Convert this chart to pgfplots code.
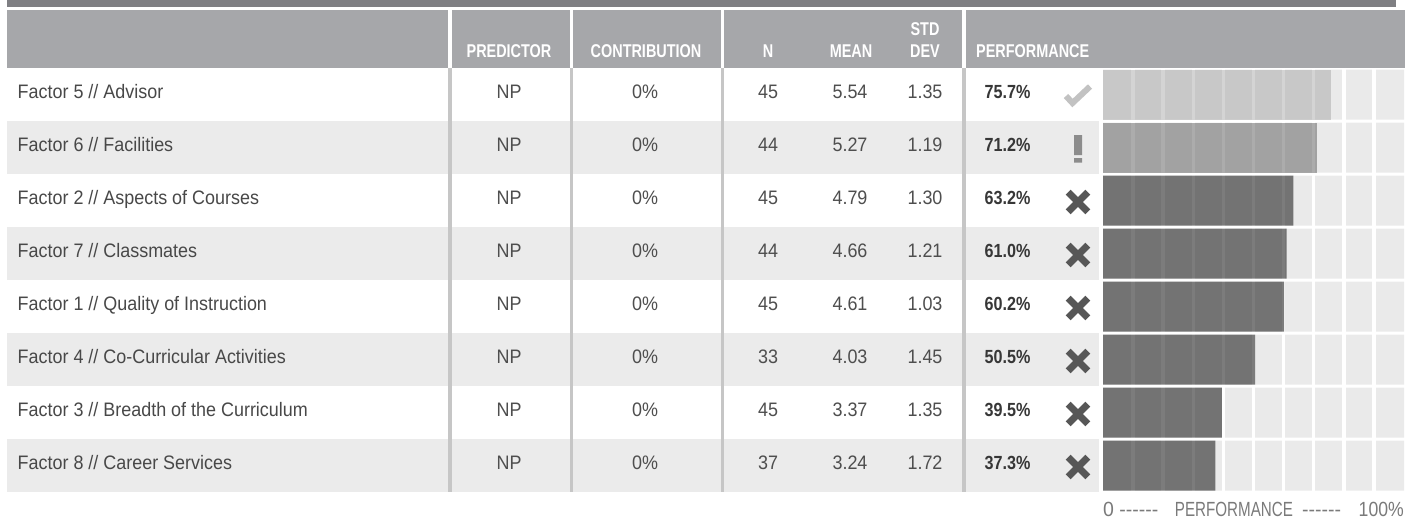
\documentclass[border=0pt]{standalone}
\usepackage{pgfplots}
\pgfplotsset{compat=1.18}
\usepackage{pgfplotstable}
\usepackage{fontspec}
\setmainfont{Liberation Sans}[FakeStretch=0.92]
\newfontfamily\hdrfont{Liberation Sans}[FakeStretch=0.78]
\newfontfamily\perffont{Liberation Sans}[FakeStretch=0.85]
\newfontfamily\btmfont{Liberation Sans}[FakeStretch=0.95]
\newfontfamily\btmnarrow{Liberation Sans}[FakeStretch=0.74]
\newfontfamily\btmnum{Liberation Sans}[FakeStretch=0.86]

\definecolor{topbar}{RGB}{127,127,131}
\definecolor{hdrgray}{RGB}{166,167,170}
\definecolor{stripe}{RGB}{235,235,235}
\definecolor{sepgray}{RGB}{198,198,198}
\definecolor{labeltxt}{RGB}{72,72,72}
\definecolor{valtxt}{RGB}{78,78,78}
\definecolor{perftxt}{RGB}{55,55,55}
\definecolor{chkcol}{RGB}{194,194,194}
\definecolor{exclcol}{RGB}{140,140,140}
\definecolor{xcol}{RGB}{87,87,87}
\definecolor{btmtxt}{RGB}{122,122,122}
\definecolor{bgcell}{RGB}{234,234,234}
\definecolor{barlight}{RGB}{160,160,160}
\definecolor{barmid}{RGB}{104,104,104}
\definecolor{bardark}{RGB}{18,18,18}

\pgfdeclareplotmark{chk}{%
  \pgfsetlinewidth{6pt}\pgfsetbuttcap\pgfsetmiterjoin
  \pgfpathmoveto{\pgfqpoint{-12pt}{0.5pt}}%
  \pgfpathlineto{\pgfqpoint{-5.5pt}{-6.5pt}}%
  \pgfpathlineto{\pgfqpoint{12pt}{10pt}}%
  \pgfusepathqstroke}
\pgfdeclareplotmark{bigx}{%
  \pgfsetlinewidth{7pt}\pgfsetbuttcap
  \pgfpathmoveto{\pgfqpoint{-9.8pt}{-9.8pt}}\pgfpathlineto{\pgfqpoint{9.8pt}{9.8pt}}%
  \pgfpathmoveto{\pgfqpoint{-9.8pt}{9.8pt}}\pgfpathlineto{\pgfqpoint{9.8pt}{-9.8pt}}%
  \pgfusepathqstroke}
\pgfdeclareplotmark{excl}{%
  \pgfpathrectangle{\pgfqpoint{-4pt}{-7pt}}{\pgfqpoint{8pt}{20pt}}%
  \pgfpathrectangle{\pgfqpoint{-4pt}{-14.5pt}}{\pgfqpoint{8pt}{4.5pt}}%
  \pgfusepathqfill}

\pgfplotstableread[col sep=comma]{
row,label,pred,contrib,n,mean,sd,perf
1,Factor 5 // Advisor,NP,0,45,5.54,1.35,75.7
2,Factor 6 // Facilities,NP,0,44,5.27,1.19,71.2
3,Factor 2 // Aspects of Courses,NP,0,45,4.79,1.30,63.2
4,Factor 7 // Classmates,NP,0,44,4.66,1.21,61.0
5,Factor 1 // Quality of Instruction,NP,0,45,4.61,1.03,60.2
6,Factor 4 // Co-Curricular Activities,NP,0,33,4.03,1.45,50.5
7,Factor 3 // Breadth of the Curriculum,NP,0,45,3.37,1.35,39.5
8,Factor 8 // Career Services,NP,0,37,3.24,1.72,37.3
}\factors

\newcommand{\textcol}[5]{%
  \addplot[draw=none, mark=none, nodes near coords={#5}, point meta=explicit symbolic,
    nodes near coords style={anchor=#3, inner sep=0pt, #4}]
    table[x expr=#1, y expr=\thisrow{row}+0.07, meta=#2] {\factors};}
\def\dashes{-{}-{}-{}-{}-{}-}

\begin{document}
\begin{tikzpicture}[x=1pt,y=1pt]
\useasboundingbox (0,0) rectangle (1420,519);
% ---------------- table axis (x in px, y in rows) ----------------
\begin{axis}[at={(0pt,0pt)}, anchor=south west, scale only axis,
  width=1420pt, height=519pt, xmin=0, xmax=1420,
  ymin=-0.783, ymax=9.009, y dir=reverse, hide axis, clip=false]
  \fill[topbar] (axis cs:7,-0.783) rectangle (axis cs:1396,-0.657);
  \fill[hdrgray] (axis cs:7,-0.594) rectangle (axis cs:1405,0.5);
  \pgfplotsinvokeforeach{2,4,6,8}{
    \fill[stripe] (axis cs:7,#1-0.5) rectangle (axis cs:1099,#1+0.5);}
  \pgfplotsinvokeforeach{450,571.5,722.5,964}{
    \draw[white, line width=3.3pt] (axis cs:#1,-0.594) -- (axis cs:#1,0.5);
    \draw[sepgray, line width=3.3pt] (axis cs:#1,0.5) -- (axis cs:#1,8.5);}
  % header texts
  \begin{scope}[every node/.style={inner sep=0pt, text=white,
      font=\hdrfont\bfseries\fontsize{18.5}{21}\selectfont}]
    \node[anchor=base] at (axis cs:509,0.311) {PREDICTOR};
    \node[anchor=base] at (axis cs:646,0.311) {CONTRIBUTION};
    \node[anchor=base] at (axis cs:768,0.311) {N};
    \node[anchor=base] at (axis cs:851,0.311) {MEAN};
    \node[anchor=base] at (axis cs:925,-0.104) {STD};
    \node[anchor=base] at (axis cs:925,0.311) {DEV};
    \node[anchor=base west] at (axis cs:976,0.311) {PERFORMANCE};
  \end{scope}
  % table columns
  \textcol{17.5}{label}{base west}{text=labeltxt, font=\fontsize{19.5}{22}\selectfont}{\pgfplotspointmeta}
  \textcol{509}{pred}{base}{text=valtxt, font=\fontsize{19.5}{22}\selectfont}{\pgfplotspointmeta}
  \textcol{645}{contrib}{base}{text=valtxt, font=\fontsize{19.5}{22}\selectfont}{\pgfplotspointmeta\%}
  \textcol{768}{n}{base}{text=valtxt, font=\fontsize{19.5}{22}\selectfont}{\pgfplotspointmeta}
  \textcol{850}{mean}{base}{text=valtxt, font=\fontsize{19.5}{22}\selectfont}{\pgfplotspointmeta}
  \textcol{925}{sd}{base}{text=valtxt, font=\fontsize{19.5}{22}\selectfont}{\pgfplotspointmeta}
  \textcol{984.5}{perf}{base west}{text=perftxt, font=\perffont\bfseries\fontsize{19}{22}\selectfont}{\pgfplotspointmeta\%}
  % status icons
  \addplot[only marks, mark=chk, color=chkcol, restrict y to domain=0:1.5]
    table[x expr=1078, y expr=\thisrow{row}+0.038] {\factors};
  \addplot[only marks, mark=excl, color=exclcol, mark options={fill=exclcol}, restrict y to domain=1.5:2.5]
    table[x expr=1078, y expr=\thisrow{row}+0.01] {\factors};
  \addplot[only marks, mark=bigx, color=xcol, restrict y to domain=2.5:9]
    table[x expr=1078, y expr=\thisrow{row}+0.028] {\factors};
\end{axis}
% ---------------- performance bars axis ----------------
\begin{axis}[at={(1103pt,0pt)}, anchor=south west, scale only axis,
  width=301pt, height=519pt, xmin=0, xmax=100,
  ymin=-0.783, ymax=9.009, y dir=reverse, hide axis, clip=false]
  \addplot[xbar, bar shift=0pt, bar width=50pt, fill=bgcell, draw=none]
    table[x expr=100, y=row] {\factors};
  \pgfplotsinvokeforeach{10,20,30,40,50,60,70,80,90}{
    \draw[white, line width=3.5pt] (axis cs:#1,0.5) -- (axis cs:#1,8.5);}
  \addplot[xbar, bar shift=0pt, bar width=50pt, fill=barlight, fill opacity=0.45, draw=none,
    restrict y to domain=0:1.5] table[x=perf, y=row] {\factors};
  \addplot[xbar, bar shift=0pt, bar width=50pt, fill=barmid, fill opacity=0.55, draw=none,
    restrict y to domain=1.5:2.5] table[x=perf, y=row] {\factors};
  \addplot[xbar, bar shift=0pt, bar width=50pt, fill=bardark, fill opacity=0.55, draw=none,
    restrict y to domain=2.5:9] table[x=perf, y=row] {\factors};
  \begin{scope}[every node/.style={inner sep=0pt, text=btmtxt}]
    \node[anchor=base west, font=\btmfont\fontsize{20.5}{23}\selectfont] at (axis cs:0,8.966) {0 \dashes};
    \node[anchor=base, font=\btmnarrow\fontsize{20.5}{23}\selectfont] at (axis cs:43.5,8.966) {PERFORMANCE};
    \node[anchor=base west, font=\btmfont\fontsize{20.5}{23}\selectfont] at (axis cs:66.1,8.966) {\dashes};
    \node[anchor=base east, font=\btmnum\fontsize{20.5}{23}\selectfont] at (axis cs:100,8.966) {100\%};
  \end{scope}
\end{axis}
\end{tikzpicture}
\end{document}
